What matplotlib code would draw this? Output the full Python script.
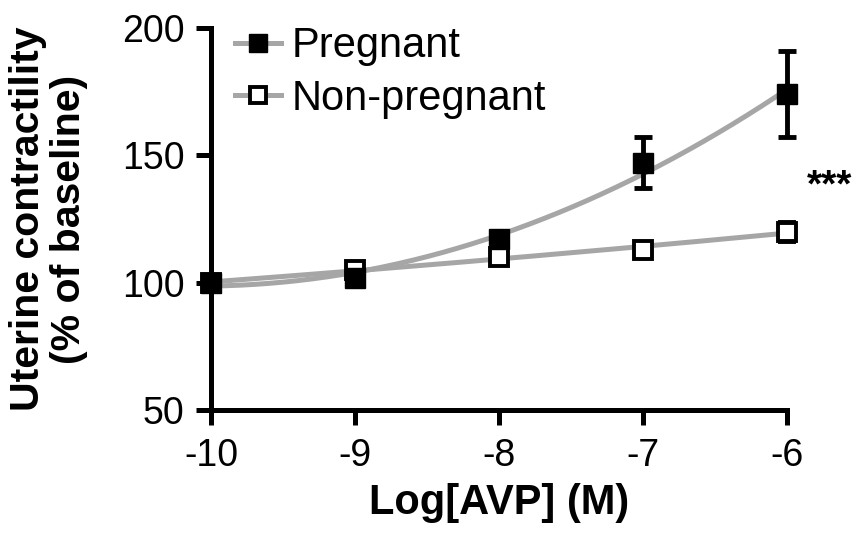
import matplotlib
matplotlib.use('Agg')
import matplotlib.pyplot as plt
import numpy as np

plt.rcParams['font.family'] = ['Liberation Sans', 'DejaVu Sans']
plt.rcParams['axes.unicode_minus'] = False

log_avp = [-10, -9, -8, -7, -6]
preg_mean = [100, 102, 117, 147, 174]
preg_err = [0, 0, 2, 10, 17]
nonpreg_mean = [100, 105, 110, 113, 120]
nonpreg_err = [0, 0, 0, 0, 4]

gray = '#a6a6a6'

fig = plt.figure(figsize=(8.55, 5.35), dpi=100)
ax = fig.add_axes([0.2468, 0.2336, 0.9205 - 0.2468, 0.9477 - 0.2336])

# smooth fitted curves from the means
xs = np.linspace(-10, -6, 200)
p_fit = np.polyfit(log_avp, preg_mean, 2)
n_fit = np.polyfit(log_avp, nonpreg_mean, 2)
ax.plot(xs, np.polyval(p_fit, xs), color=gray, lw=3.6, zorder=1)
ax.plot(xs, np.polyval(n_fit, xs), color=gray, lw=3.6, zorder=1)

ax.errorbar(log_avp, nonpreg_mean, yerr=nonpreg_err, fmt='s', mfc='white',
            mec='black', mew=2.8, ms=13, ecolor='black', elinewidth=3.5,
            capsize=6.5, capthick=3.5, zorder=3, clip_on=False)
ax.errorbar(log_avp, preg_mean, yerr=preg_err, fmt='s', color='black',
            ms=14, ecolor='black', elinewidth=3.5, capsize=6.5, capthick=3.5,
            zorder=4, clip_on=False)

# legend handles
l1, = ax.plot([], [], color=gray, lw=3.6, marker='s', ms=13, mfc='black', mec='black')
l2, = ax.plot([], [], color=gray, lw=3.6, marker='s', ms=12, mfc='white', mec='black', mew=2.8)
ax.legend([l1, l2], ['Pregnant', 'Non-pregnant'], loc='upper left',
          bbox_to_anchor=(0.042, 1.004), frameon=False, fontsize=30,
          handlelength=1.1, handletextpad=0.25, labelspacing=0.3,
          borderaxespad=0, borderpad=0)

ax.text(-5.86, 134, '***', fontsize=28, fontweight='bold',
        ha='left', va='baseline', clip_on=False)

ax.set_xlim(-10, -6)
ax.set_ylim(50, 200)
ax.set_xticks([-10, -9, -8, -7, -6])
ax.set_yticks([50, 100, 150, 200])
for s in ['top', 'right']:
    ax.spines[s].set_visible(False)
for s in ['left', 'bottom']:
    ax.spines[s].set_linewidth(3.6)
ax.tick_params(width=3.6, length=11, labelsize=27)
ax.tick_params(axis='x', pad=9)
ax.tick_params(axis='y', pad=8)

ax.set_xlabel('Log[AVP] (M)', fontsize=30, fontweight='bold')
ax.xaxis.set_label_coords(0.5, -0.19)
ax.set_ylabel('Uterine contractility\n(% of baseline)', fontsize=29.5,
              fontweight='bold', linespacing=1.1)
ax.yaxis.set_label_coords(-0.2135, 0.5)

fig.savefig('out.png', dpi=100)
